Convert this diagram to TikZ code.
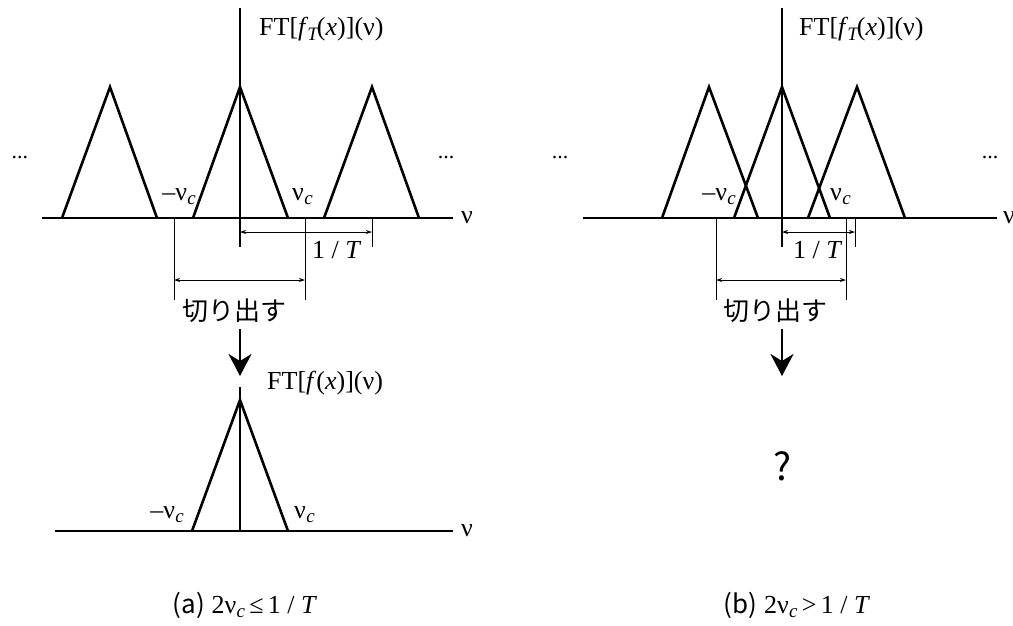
\documentclass[tikz,border=0pt]{standalone}
\usepackage{fontspec}
\setmainfont{Liberation Serif}
\newfontfamily\jp{Noto Sans CJK JP}
\usetikzlibrary{arrows.meta}
\newcommand\subsz{\fontsize{19}{20}\selectfont}
\newcommand\nuc{ν\kern0.3pt\raisebox{-0.4ex}{\subsz\itshape c}}
\begin{document}
\begin{tikzpicture}[x=1pt,y=-1pt,
  axis/.style={line width=2.6pt},
  thin/.style={line width=1pt},
  dimarrow/.style={line width=1pt,{Stealth[length=6pt,width=4pt]}-{Stealth[length=6pt,width=4pt]}},
  bigarrow/.style={line width=2.6pt,-{Stealth[length=22pt,width=23pt,inset=7pt]}},
  lbl/.style={font=\fontsize{26}{28}\selectfont, inner sep=0pt},
  jlbl/.style={font=\jp\fontsize{26}{28}\selectfont, inner sep=0pt},
  qlbl/.style={font=\jp\fontsize{38}{40}\selectfont, inner sep=0pt},
  dots/.style={font=\fontsize{22}{24}\selectfont, inner sep=0pt}]
\useasboundingbox (0,0) rectangle (1013,625);

% ================= panel (a) =================
\coordinate (a-yt) at (240,8);
\coordinate (a-yb) at (240,247);
\coordinate (a-xl) at (42,218);
\coordinate (a-xr) at (453,218);
\draw[axis] (a-yt) -- (a-yb);
\draw[axis] (a-xl) -- (a-xr);
\coordinate (a-t1l) at (62,218);  \coordinate (a-t1p) at (110,87);  \coordinate (a-t1r) at (157,218);
\coordinate (a-t2l) at (193,218); \coordinate (a-t2p) at (240,87);  \coordinate (a-t2r) at (288,218);
\coordinate (a-t3l) at (324,218); \coordinate (a-t3p) at (372,87);  \coordinate (a-t3r) at (419,218);
\draw[axis,line join=miter] (a-t1l) -- (a-t1p) -- (a-t1r);
\draw[axis,line join=miter] (a-t2l) -- (a-t2p) -- (a-t2r);
\draw[axis,line join=miter] (a-t3l) -- (a-t3p) -- (a-t3r);
\node[lbl,anchor=west] (a-ft) at (259,29) {FT[\textit{f}\kern-1pt\raisebox{-0.4ex}{\subsz\itshape T}\kern-1pt(\textit{x})](ν)};
\node[lbl,anchor=base west] (a-nu) at (461,223) {ν};
\node[lbl,anchor=base east] (a-mnc) at (196,200) {–\nuc};
\node[lbl,anchor=base west] (a-nc) at (292,200) {\nuc};
\node[dots] (a-dl) at (20,158) {...};
\node[dots] (a-dr) at (446,158) {...};
% 1/T
\coordinate (a-p0) at (240,232);
\coordinate (a-p1) at (372,232);
\coordinate (a-tk1) at (372,218);
\coordinate (a-tk2) at (372,247);
\draw[thin] (a-tk1) -- (a-tk2);
\draw[dimarrow] (a-p0) -- (a-p1);
\node[lbl,anchor=base west] (a-T) at (312,258) {1 / \textit{T}};
% cut
\coordinate (a-c1t) at (174,218); \coordinate (a-c1b) at (174,300);
\coordinate (a-c2t) at (305,218); \coordinate (a-c2b) at (305,300);
\draw[thin] (a-c1t) -- (a-c1b);
\draw[thin] (a-c2t) -- (a-c2b);
\coordinate (a-ca) at (174,280); \coordinate (a-cb) at (305,280);
\draw[dimarrow] (a-ca) -- (a-cb);
\node[jlbl] (a-cut) at (234,311) {切り出す};
% arrow down
\coordinate (a-ar0) at (240,329);
\coordinate (a-ar1) at (240,376);
\draw[bigarrow] (a-ar0) -- (a-ar1);
% lower graph
\coordinate (b-yt) at (240,387);
\coordinate (b-yb) at (240,531);
\coordinate (b-xl) at (55,531);
\coordinate (b-xr) at (453,531);
\draw[axis] (b-yt) -- (b-yb);
\draw[axis] (b-xl) -- (b-xr);
\coordinate (b-tl) at (192,531); \coordinate (b-tp) at (240,400); \coordinate (b-tr) at (288,531);
\draw[axis,line join=miter] (b-tl) -- (b-tp) -- (b-tr);
\node[lbl,anchor=west] (b-ft) at (267,383) {FT[\textit{f}(\textit{x})](ν)};
\node[lbl,anchor=base west] (b-nu) at (461,536) {ν};
\node[lbl,anchor=base east] (b-mnc) at (184,518) {–\nuc};
\node[lbl,anchor=base west] (b-nc) at (294,518) {\nuc};
\node[lbl,anchor=base] (a-cap) at (245,613) {{\jp (a)} 2\nuc\,≤\,1 / \textit{T}};

% ================= panel (b) =================
\coordinate (c-yt) at (782,8);
\coordinate (c-yb) at (782,247);
\coordinate (c-xl) at (583,218);
\coordinate (c-xr) at (997,218);
\draw[axis] (c-yt) -- (c-yb);
\draw[axis] (c-xl) -- (c-xr);
\coordinate (c-t1l) at (662,218); \coordinate (c-t1p) at (709,87); \coordinate (c-t1r) at (758,218);
\coordinate (c-t2l) at (734,218); \coordinate (c-t2p) at (782,87); \coordinate (c-t2r) at (830,218);
\coordinate (c-t3l) at (808,218); \coordinate (c-t3p) at (857,87); \coordinate (c-t3r) at (905,218);
\draw[axis,line join=miter] (c-t1l) -- (c-t1p) -- (c-t1r);
\draw[axis,line join=miter] (c-t2l) -- (c-t2p) -- (c-t2r);
\draw[axis,line join=miter] (c-t3l) -- (c-t3p) -- (c-t3r);
\node[lbl,anchor=west] (c-ft) at (799,29) {FT[\textit{f}\kern-1pt\raisebox{-0.4ex}{\subsz\itshape T}\kern-1pt(\textit{x})](ν)};
\node[lbl,anchor=base west] (c-nu) at (1003,223) {ν};
\node[lbl,anchor=base east] (c-mnc) at (736,200) {–\nuc};
\node[lbl,anchor=base west] (c-nc) at (830,200) {\nuc};
\node[dots] (c-dl) at (560,158) {...};
\node[dots] (c-dr) at (990,158) {...};
% 1/T
\coordinate (c-p0) at (782,232);
\coordinate (c-p1) at (855,232);
\coordinate (c-tk1) at (855,218);
\coordinate (c-tk2) at (855,247);
\draw[thin] (c-tk1) -- (c-tk2);
\draw[dimarrow] (c-p0) -- (c-p1);
\node[lbl,anchor=base west] (c-T) at (793,258) {1 / \textit{T}};
% cut
\coordinate (c-c1t) at (716,218); \coordinate (c-c1b) at (716,300);
\coordinate (c-c2t) at (846,218); \coordinate (c-c2b) at (846,300);
\draw[thin] (c-c1t) -- (c-c1b);
\draw[thin] (c-c2t) -- (c-c2b);
\coordinate (c-ca) at (716,280); \coordinate (c-cb) at (846,280);
\draw[dimarrow] (c-ca) -- (c-cb);
\node[jlbl] (c-cut) at (775,311) {切り出す};
% arrow down
\coordinate (c-ar0) at (782,329);
\coordinate (c-ar1) at (782,376);
\draw[bigarrow] (c-ar0) -- (c-ar1);
\node[qlbl] (c-q) at (782,466) {?};
\node[lbl,anchor=base] (b-cap) at (797,613) {{\jp (b)} 2\nuc\,>\,1 / \textit{T}};
\end{tikzpicture}
\end{document}
